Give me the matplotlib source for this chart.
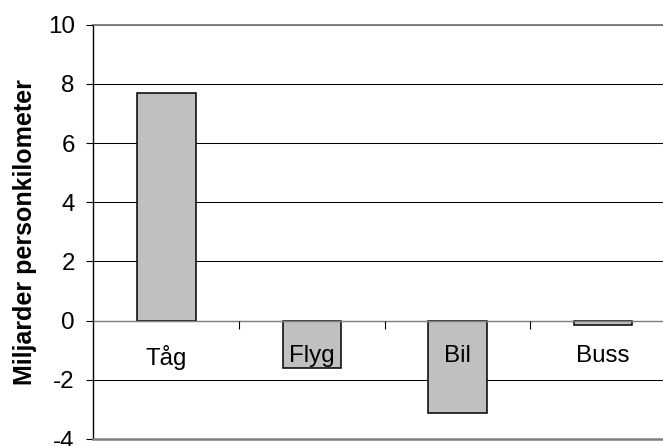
import matplotlib.pyplot as plt
import numpy as np

plt.rcParams['font.family'] = ['Liberation Sans', 'DejaVu Sans']

categories = ['Tåg', 'Flyg', 'Bil', 'Buss']
values = [7.7, -1.6, -3.13, -0.13]
y_ticks = [-4, -2, 0, 2, 4, 6, 8, 10]

fig = plt.figure(figsize=(6.63, 4.46), dpi=100)
# plot area runs a little past the right edge of the figure
ax = fig.add_axes([0.1410, 0.0152, 0.8785, 0.9298])

x = np.arange(len(categories))

# horizontal gridlines behind the bars, labels stay on top
for yv in y_ticks:
    ax.axhline(yv, color='black', linewidth=0.75, zorder=1)

ax.bar(x, values, width=0.403, color='#C0C0C0', edgecolor='black',
       linewidth=1.1, zorder=2)
ax.set_axisbelow(False)

ax.set_xlim(-0.5, len(categories) - 0.5)
ax.set_ylim(min(y_ticks), max(y_ticks))
ax.set_yticks(y_ticks)
ax.set_yticklabels([str(v) for v in y_ticks], fontsize=17.4)

# category axis sits at zero
ax.spines['bottom'].set_position(('data', 0))
ax.spines['bottom'].set_color('#808080')
ax.spines['bottom'].set_linewidth(1.0)
ax.spines['right'].set_visible(False)
ax.spines['top'].set_color('#808080')
ax.spines['top'].set_linewidth(1.4)
ax.spines['left'].set_color('black')
ax.spines['left'].set_linewidth(1.0)
ax.axhline(min(y_ticks), color='#808080', linewidth=1.8, clip_on=False, zorder=4)

ax.set_xticks(x)
ax.set_xticklabels(categories, fontsize=17.4)
ax.set_xticks(x[:-1] + 0.5, minor=True)
ax.tick_params(axis='x', which='major', length=0, pad=17.5)
ax.tick_params(axis='x', which='minor', length=5.5, width=0.8, direction='out')
ax.tick_params(axis='y', length=5.0, width=0.8, pad=8.4)

ax.set_ylabel('Miljarder personkilometer', fontsize=18, fontweight='bold',
              labelpad=8)

fig.savefig('out.png', dpi=100)
